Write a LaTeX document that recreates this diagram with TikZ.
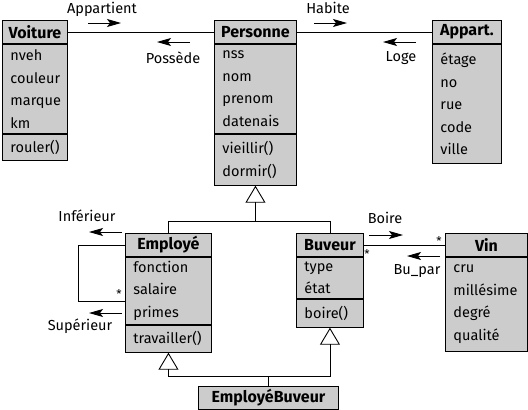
\documentclass[tikz,border=0pt]{standalone}
\usepackage{fontspec}
\setmainfont{Fira Sans}
\usetikzlibrary{arrows.meta}

\definecolor{boxgray}{gray}{0.8}

\begin{document}
\begin{tikzpicture}[x=1pt, y=-1pt, line width=0.9pt,
        class head/.style = {rectangle, draw, fill=boxgray, anchor=north west, inner sep=0pt, minimum width=#1, minimum height=23pt, font=\bfseries\fontsize{16}{18}\selectfont},
        class body/.style 2 args = {rectangle, draw, fill=boxgray, anchor=north west, inner xsep=8pt, inner ysep=0pt, text width=#1, minimum height=#2, align=left, font=\fontsize{14.5}{22.5}\selectfont},
        edge label/.style = {inner sep=0pt, font=\fontsize{14.5}{16}\selectfont},
        mult/.style = {inner sep=0pt, font=\fontsize{12}{12}\selectfont},
        dir arrow/.style = {-{Stealth[length=14pt, width=8pt, inset=3pt]}},
        inherit/.style = {-{Triangle[open, length=17pt, width=20pt]}},
        ]
        \useasboundingbox (0,0) rectangle (528,410);

        % Top row classes
        \node[class head=65] (voit) at (2,20) {Voiture};
        \node[class body={49}{89}] (voitattr) at (voit.south west) {nveh\\couleur\\marque\\km};
        \node[class body={49}{26}] (voitmeth) at (voitattr.south west) {rouler()};

        \node[class head=82] (pers) at (214,20) {Personne};
        \node[class body={66}{89}] (persattr) at (pers.south west) {nss\\nom\\prenom\\datenais};
        \node[class body={66}{51}] (persmeth) at (persattr.south west) {vieillir()\\dormir()};

        \node[class head=69] (app) at (432,20) {Appart.};
        \node[class body={53}{119}] (appattr) at (app.south west) {étage\\no\\rue\\code\\ville};

        % Middle row classes
        \node[class head=86] (emp) at (125,233) {Employé};
        \node[class body={70}{67}] (empattr) at (emp.south west) {fonction\\salaire\\primes};
        \node[class body={70}{27}] (empmeth) at (empattr.south west) {travailler()};

        \node[class head=67] (buv) at (296,233) {Buveur};
        \node[class body={51}{41}] (buvattr) at (buv.south west) {type\\état};
        \node[class body={51}{28}] (buvmeth) at (buvattr.south west) {boire()};

        \node[class head=82] (vin) at (445,233) {Vin};
        \node[class body={66}{94}] (vinattr) at (vin.south west) {cru\\millésime\\degré\\qualité};

        % Bottom class
        \node[class head=140] (empbuv) at (198,386) {EmployéBuveur};

        % Associations
        \draw (voit.east) -- (pers.west);
        \draw (pers.east) -- (app.west);
        \draw (buv.east) -- (vin.west);
        \draw (emp.west) -- ++(-47,0) |- ([yshift=-10.5pt]empattr.west);

        % Association labels
        \node[edge label] (appartient) at (102,9) {Appartient};
        \node[edge label] (possede) at (173,58) {Possède};
        \node[edge label] (habite) at (328,8) {Habite};
        \node[edge label] (loge) at (401,58) {Loge};
        \node[edge label] (inferieur) at (87,216) {Inférieur};
        \node[edge label] (superieur) at (80,326) {Supérieur};
        \node[edge label] (boire) at (385,218) {Boire};
        \node[edge label] (bupar) at (417,271) {Bu\_par};

        \node[mult] (m1) at (119,294) {*};
        \node[mult] (m2) at (367,254) {*};
        \node[mult] (m3) at (439,241) {*};

        % Reading directions
        \coordinate (a1) at (88,23);  \coordinate (b1) at (121,23);
        \coordinate (a2) at (190,42); \coordinate (b2) at (157,42);
        \coordinate (a3) at (314,23); \coordinate (b3) at (347,23);
        \coordinate (a4) at (416,42); \coordinate (b4) at (383,42);
        \coordinate (a5) at (122,232); \coordinate (b5) at (89,232);
        \coordinate (a6) at (122,313); \coordinate (b6) at (89,313);
        \coordinate (a7) at (369,235); \coordinate (b7) at (403,235);
        \coordinate (a8) at (440,256); \coordinate (b8) at (407,256);
        \foreach \i in {1,...,8}
            \draw[dir arrow] (a\i) -- (b\i);

        % Inheritance
        \coordinate (gen1) at (persmeth.south |- 0,221);
        \draw (emp.north) |- (buv.north |- gen1) -- (buv.north);
        \draw[inherit] (gen1) -- (persmeth.south);

        \coordinate (gen2) at (empbuv.north |- 0,376);
        \draw (gen2) -- (empbuv.north);
        \draw[inherit] (gen2) -| (empmeth.south);
        \draw[inherit] (gen2) -| (buvmeth.south);
    \end{tikzpicture}
\end{document}
